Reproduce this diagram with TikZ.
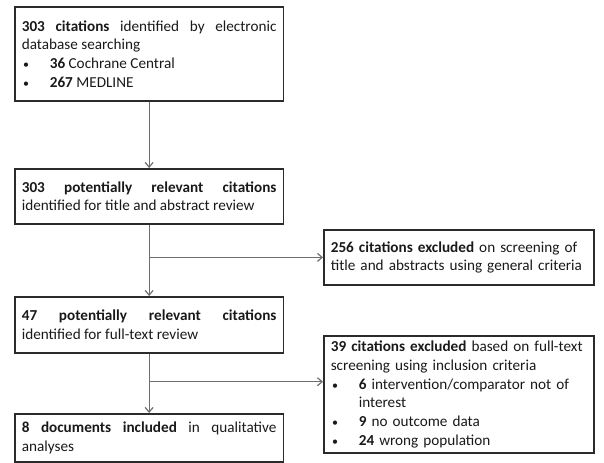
\documentclass[tikz,border=0pt]{standalone}
\usepackage{fontspec}
\setmainfont{Carlito}
\usetikzlibrary{arrows.meta,positioning,calc}
\definecolor{frame}{HTML}{2B2B2B}
\definecolor{link}{HTML}{6E6E6E}
\setlength{\parindent}{0pt}
\hyphenpenalty=10000

% one bullet line with hanging indent
\newcommand{\bitem}[1]{\par\hangindent=21pt\hangafter=1\leavevmode\hbox to 21pt{\hskip1pt{\fontsize{9}{9}\selectfont\textbullet}\hss}#1}

\begin{document}
\begin{tikzpicture}[x=0.75pt, y=-0.75pt,
  box/.style={draw=frame, line width=1.3pt, anchor=north west, inner xsep=5.2pt,
    inner ysep=3pt, font=\fontsize{11.4}{14}\selectfont, text=black!90},
  mainbox/.style={box, text width=191pt, align=justify},
  sidebox/.style={box, text width=192pt, align=left},
  flow/.style={draw=link, line width=0.9pt, -{Straight Barb[length=3.5pt,width=6pt]}}
]
  \useasboundingbox (0,0) rectangle (604,463);

  \node[mainbox, minimum height=70.5pt] (search) at (14,6) {
    \textbf{303 citations} identified by electronic\linebreak database searching
    \bitem{\textbf{36} Cochrane Central}
    \bitem{\textbf{267} MEDLINE}
  };
  \node[mainbox, minimum height=41.25pt] (screen) at (14,168) {
    \textbf{303 potentially relevant citations}\linebreak identified for title and abstract review
  };
  \node[sidebox, minimum height=41.25pt] (excl1) at (323,229) {
    \textbf{256 citations excluded} on screening of\\ title and abstracts using general criteria
  };
  \node[mainbox, minimum height=42pt] (fulltext) at (14,296) {
    \textbf{47 potentially relevant citations}\linebreak identified for full-text review
  };
  \node[sidebox, minimum height=87.75pt] (excl2) at (323,335) {
    \textbf{39 citations excluded} based on full-text\\ screening using inclusion criteria
    \bitem{\textbf{6} intervention/comparator not of\break interest}
    \bitem{\textbf{9} no outcome data}
    \bitem{\textbf{24} wrong population}
  };
  \node[mainbox, minimum height=36pt] (incl) at (14,413) {
    \textbf{8 documents included} in qualitative\linebreak analyses
  };

  \coordinate (split1) at ($(screen.south |- excl1.west)$);
  \coordinate (split2) at ($(fulltext.south)+(0,28)$);

  \draw[flow] (search) -- (screen);
  \draw[flow] (screen) -- (fulltext);
  \draw[flow] (split1) -- (excl1.west);
  \draw[flow] (fulltext) -- (incl);
  \draw[flow] (split2) -- (split2 -| excl2.west);
\end{tikzpicture}
\end{document}
